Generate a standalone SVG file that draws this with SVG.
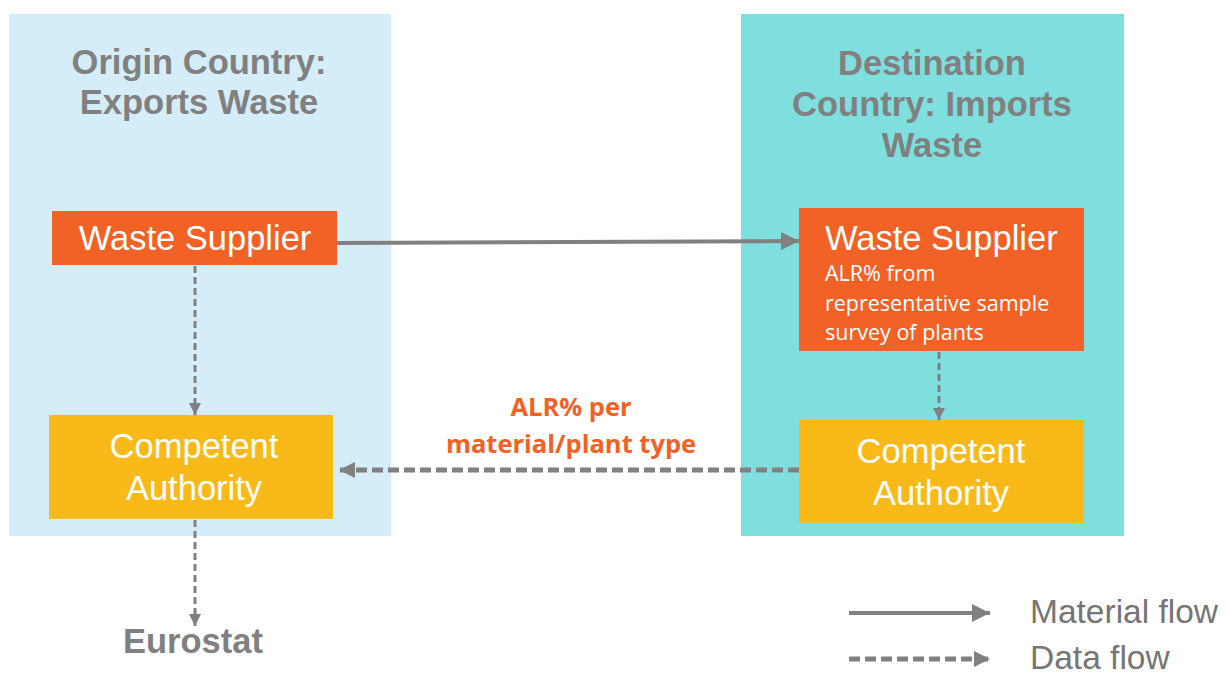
<svg xmlns="http://www.w3.org/2000/svg" width="1228" height="688" viewBox="0 0 1228 688">
<defs>
<style>
.title{font-family:"Liberation Sans",Arial,sans-serif;font-weight:bold;font-size:34.5px;fill:#808080;text-anchor:middle}
.node{font-family:"Liberation Sans",Arial,sans-serif;font-size:34.5px;fill:#ffffff}
.sub{font-family:"Open Sans","Noto Sans",sans-serif;font-size:21.5px;fill:#ffffff}
.lbl{font-family:"Open Sans","Noto Sans",sans-serif;font-weight:bold;font-size:25.5px;fill:#F26125;text-anchor:middle}
.leg{font-family:"Liberation Sans",Arial,sans-serif;font-size:33.5px;fill:#757575}
.solid{stroke:#808080;stroke-width:4;fill:none}
.dash{stroke:#808080;stroke-width:3;fill:none;stroke-dasharray:7 4}
.dashw{stroke:#808080;stroke-width:5;fill:none;stroke-dasharray:11 5}
</style>
<marker id="ah" viewBox="0 0 10 10" refX="10" refY="5" markerWidth="4" markerHeight="4" markerUnits="strokeWidth" orient="auto">
<path d="M0,0 L10,5 L0,10 z" fill="#808080"/>
</marker>
<marker id="ahs" viewBox="0 0 10 10" refX="10" refY="5" markerWidth="4.5" markerHeight="4.5" markerUnits="strokeWidth" orient="auto">
<path d="M0,0 L10,5 L0,10 z" fill="#808080"/>
</marker>
<marker id="ahw" viewBox="0 0 10 10" refX="10" refY="5" markerWidth="3.2" markerHeight="3.2" markerUnits="strokeWidth" orient="auto">
<path d="M0,0 L10,5 L0,10 z" fill="#808080"/>
</marker>
</defs>
<rect width="1228" height="688" fill="#ffffff"/>
<g id="origin-panel">
<rect x="9" y="14" width="382" height="522" fill="#D5EDF8"/>
<text class="title" x="199" y="74">Origin Country:</text>
<text class="title" x="199" y="114">Exports Waste</text>
</g>
<g id="destination-panel">
<rect x="741" y="14" width="383" height="522" fill="#7FDEDE"/>
<text class="title" x="932" y="75">Destination</text>
<text class="title" x="932" y="116">Country: Imports</text>
<text class="title" x="932" y="157">Waste</text>
</g>
<g id="connectors">
<line class="solid" x1="337" y1="243" x2="799" y2="241" marker-end="url(#ahs)"/>
<line class="dash" x1="195" y1="266" x2="195" y2="415" marker-end="url(#ah)"/>
<line class="dash" x1="939" y1="352" x2="939" y2="420" marker-end="url(#ah)"/>
<line class="dashw" x1="799" y1="470" x2="339" y2="470" marker-end="url(#ahw)"/>
<line class="dash" x1="195" y1="520" x2="195" y2="626" marker-end="url(#ah)"/>
<text class="lbl" x="571" y="416">ALR% per</text>
<text class="lbl" x="571" y="453">material/plant type</text>
</g>
<g id="origin-waste-supplier">
<rect x="52" y="211" width="285" height="54" fill="#F26125"/>
<text class="node" x="195" y="250" text-anchor="middle">Waste Supplier</text>
</g>
<g id="origin-competent-authority">
<rect x="49" y="415" width="284" height="104" fill="#F9B918"/>
<text class="node" x="194" y="458" text-anchor="middle">Competent</text>
<text class="node" x="194" y="500" text-anchor="middle">Authority</text>
</g>
<g id="destination-waste-supplier">
<rect x="799" y="208" width="285" height="143" fill="#F26125"/>
<text class="node" x="825" y="250">Waste Supplier</text>
<text class="sub" x="825" y="281">ALR% from</text>
<text class="sub" x="825" y="311">representative sample</text>
<text class="sub" x="825" y="340">survey of plants</text>
</g>
<g id="destination-competent-authority">
<rect x="799" y="420" width="285" height="103" fill="#F9B918"/>
<text class="node" x="941" y="463" text-anchor="middle">Competent</text>
<text class="node" x="941" y="505" text-anchor="middle">Authority</text>
</g>
<g id="eurostat">
<text class="title" x="193" y="653">Eurostat</text>
</g>
<g id="legend">
<line class="solid" x1="849" y1="613" x2="990" y2="613" marker-end="url(#ahs)"/>
<line class="dashw" x1="849" y1="659" x2="990" y2="659" marker-end="url(#ahw)"/>
<text class="leg" x="1030" y="623">Material flow</text>
<text class="leg" x="1030" y="669">Data flow</text>
</g>
</svg>
